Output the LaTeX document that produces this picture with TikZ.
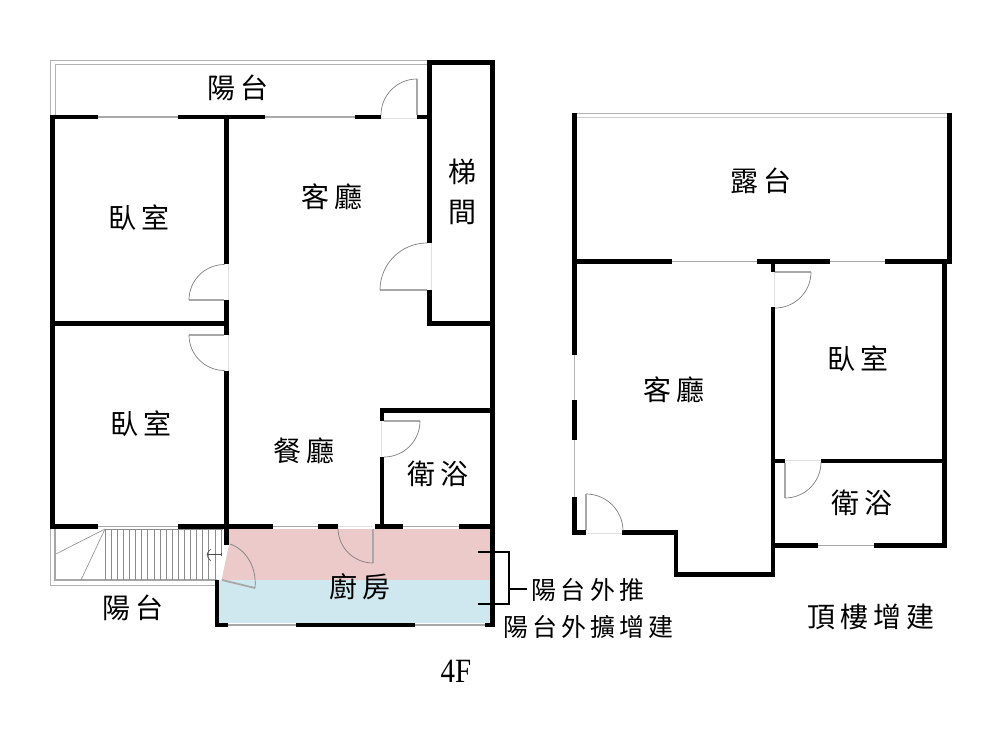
\documentclass[tikz,border=0pt]{standalone}
\usepackage{fontspec}
\setmainfont{Liberation Serif}
\newfontfamily\cjk{Noto Sans CJK TC}
\definecolor{pinkroom}{HTML}{EBCAC9}
\definecolor{blueroom}{HTML}{CFE7EE}
\definecolor{wingray}{HTML}{A8A8A8}
\tikzset{
  wall/.style={line width=4.8pt,line cap=butt,line join=miter,black},
  winline/.style={line width=1.3pt,wingray},
  leaf/.style={line width=1.3pt,draw=wingray},
  swing/.style={line width=.7pt,draw=gray},
  gapline/.style={line width=.6pt,draw=black!12},
  rail/.style={line width=1pt,draw=black!30},
  tread/.style={line width=.6pt,draw=black!45},
  room/.style={font=\cjk\fontsize{28}{28}\selectfont,inner sep=0pt,black},
  note/.style={font=\cjk\fontsize{25}{25}\selectfont,inner sep=0pt,black},
}
\newcommand{\gp}{\hspace{5pt}}
\begin{document}
\begin{tikzpicture}[x=1pt,y=-1pt]
\useasboundingbox (0,0) rectangle (1000,733);
\fill[white] (0,0) rectangle (1000,733);

% coloured rooms
\fill[pinkroom] (229,529) -- (491,529) -- (491,580) -- (221,580) -- (229,545) -- cycle;
\fill[blueroom] (219,580) rectangle (491,623);

% balconies
\draw[rail] (427,60.5) -- (50.5,60.5) -- (50.5,115);
\draw[rail] (427,65) -- (55,65) -- (55,115);
\draw[rail] (50.5,529) -- (50.5,585) -- (216,585);
\draw[line width=1.4pt,draw=black!35] (55,529) -- (55,580) -- (218,580);

% stairs
\foreach \i in {0,...,19} {
  \draw[tread] ({105+\i*6.1},529) -- ({105+\i*6.1},580);
}
\draw[tread] (105,529.5) -- (223,529.5);
\draw[tread] (105,529) -- (56,554);
\draw[tread] (105,529) -- (81,580);
\draw[line width=5pt,white] (226,545) -- (219,580);
\draw[line width=.6pt,draw=black!70] (207,554.5) -- (221,554.5);
\draw[line width=.6pt,draw=black!70] (211,549) .. controls (208,552) and (207,553) .. (207,554.5) .. controls (207,556) and (208,558) .. (211,561);
\draw[line width=.6pt,draw=black!70] (221,552.5) -- (221,556);

% windows
\foreach \a/\b in {98/178,265/355}{\draw[winline] (\a,117) -- (\b,117);}
\foreach \a/\b in {98/178,273/318,403/459}{\draw[winline] (\a,526.5) -- (\b,526.5);}
\foreach \a/\b in {228/296,415/485}{\draw[winline] (\a,625) -- (\b,625);}
\foreach \a/\b in {672/714,714/757,830/885}{\draw[winline] (\a,261.5) -- (\b,261.5);}
\draw[winline] (818,545.5) -- (874,545.5);
\draw[winline,black!30] (574.5,355) -- (574.5,400);
\draw[winline,black!30] (574.5,440) -- (574.5,497);
\draw[line width=1.5pt,black!30] (574,113.5) -- (950,113.5);
\draw[line width=.8pt,black!20] (577,117) -- (947,117);

% door openings
\draw[gapline] (381,118) -- (417,118);
\draw[gapline] (431,243) -- (431,290);
\draw[gapline] (228,264) -- (228,300);
\draw[gapline] (228,335) -- (228,371);
\draw[gapline] (381,421) -- (381,457);
\draw[gapline] (338,526) -- (373,526);
\draw[gapline] (774,272) -- (774,307);
\draw[gapline] (785,460) -- (821,460);
\draw[gapline] (586,533) -- (622,533);

% walls, lower floor
\draw[wall] (50,117) -- (98,117);
\draw[wall] (178,117) -- (265,117);
\draw[wall] (355,117) -- (381,117);
\draw[wall] (417,117) -- (430,117);
\draw[wall] (52.5,115) -- (52.5,529);
\draw[wall] (50,323.5) -- (226,323.5);
\draw[wall] (226.5,117) -- (226.5,264);
\draw[wall] (226.5,300) -- (226.5,335);
\draw[wall] (226.5,371) -- (226.5,545);
\draw[wall] (429.5,60) -- (429.5,243);
\draw[wall] (429.5,290) -- (429.5,326);
\draw[wall] (427,62.5) -- (493,62.5);
\draw[wall] (429.5,323.5) -- (493,323.5);
\draw[wall] (492.8,60) -- (492.8,627);
\draw[wall] (380,410.5) -- (493,410.5);
\draw[wall] (382,408) -- (382,421);
\draw[wall] (382,457) -- (382,529);
\draw[wall] (50,526.5) -- (98,526.5);
\draw[wall] (178,526.5) -- (273,526.5);
\draw[wall] (318,526.5) -- (338,526.5);
\draw[wall] (375,526.5) -- (403,526.5);
\draw[wall] (459,526.5) -- (495,526.5);
\draw[wall] (217,580) -- (217,627);
\draw[wall] (215,625) -- (228,625);
\draw[wall] (296,625) -- (415,625);
\draw[wall] (485,625) -- (495,625);

% walls, upper floor
\draw[wall] (574.5,113) -- (574.5,355);
\draw[wall] (949.5,113) -- (949.5,264);
\draw[wall] (572,261.5) -- (672,261.5);
\draw[wall] (757,261.5) -- (830,261.5);
\draw[wall] (885,261.5) -- (952,261.5);
\draw[wall] (574.5,400) -- (574.5,440);
\draw[wall] (574.5,497) -- (574.5,535);
\draw[wall] (572,532.5) -- (586,532.5);
\draw[wall] (622,532.5) -- (678,532.5);
\draw[wall] (676,530) -- (676,577);
\draw[wall] (674,574.5) -- (775,574.5);
\draw[wall] (773,261) -- (773,272);
\draw[wall] (773,307) -- (773,577);
\draw[wall] (944.5,261) -- (944.5,548);
\draw[wall] (773,461) -- (785,461);
\draw[wall] (821,461) -- (947,461);
\draw[wall] (773,545.5) -- (818,545.5);
\draw[wall] (874,545.5) -- (947,545.5);

% doors (y points down, so angles run clockwise on the page)
\draw[leaf] (417,115) -- (417,79);
\draw[swing] (417,79) arc[start angle=-90,end angle=-180,radius=36];
\draw[leaf] (427,290) -- (380,290);
\draw[swing] (380,290) arc[start angle=180,end angle=270,radius=47];
\draw[leaf] (224,300) -- (189,300);
\draw[swing] (189,300) arc[start angle=180,end angle=270,radius=35.5];
\draw[leaf] (224,335) -- (189,335);
\draw[swing] (189,335) arc[start angle=180,end angle=90,radius=35.5];
\draw[leaf] (384,421) -- (420,421);
\draw[swing] (420,421) arc[start angle=0,end angle=90,radius=36];
\draw[leaf] (373,529) -- (373,563);
\draw[swing] (373,563) arc[start angle=90,end angle=180,radius=35];
\draw[leaf,line width=1.8pt] (222,580) -- (255,588);
\draw[swing] (230,544) .. controls (245,549) and (257,566) .. (255,588);
\draw[leaf] (775,272) -- (811,272);
\draw[swing] (811,272) arc[start angle=0,end angle=90,radius=36];
\draw[leaf] (785,463) -- (785,498);
\draw[swing] (785,498) arc[start angle=90,end angle=0,radius=36];
\draw[leaf] (586,530) -- (586,494);
\draw[swing] (586,494) arc[start angle=-90,end angle=0,radius=37];

% callout bracket
\draw[line width=1.2pt,black] (478,552) -- (509,552) -- (509,604) -- (478,604);
\draw[line width=1.2pt,black] (509,589) -- (527,589);

% labels
\node[room] (balconyA) at (238,88) {陽\gp 台};
\node[room] (bedA) at (139,218) {臥\gp 室};
\node[room] (livingA) at (332,197) {客\gp 廳};
\node[room] (stairA) at (462,172) {梯};
\node[room] (stairB) at (462,212) {間};
\node[room] (bedB) at (141,424) {臥\gp 室};
\node[room] (dining) at (304,451) {餐\gp 廳};
\node[room] (bathA) at (438,474) {衛\gp 浴};
\node[room] (kitchen) at (360,587) {廚\gp 房};
\node[room] (balconyB) at (133,608) {陽\gp 台};
\node[note] (pushed) at (588,590) {陽\hspace{4.5pt}台\hspace{4.5pt}外\hspace{4.5pt}推};
\node[note] (extended) at (588.5,627) {陽\hspace{4pt}台\hspace{4pt}外\hspace{4pt}擴\hspace{4pt}增\hspace{4pt}建};
\node[inner sep=0pt,font=\fontsize{34}{34}\selectfont,xscale=.85,transform shape] (floorA) at (456,671) {4F};
\node[room] (terrace) at (761,181) {露\gp 台};
\node[room] (livingB) at (674,390) {客\gp 廳};
\node[room] (bedC) at (858,359) {臥\gp 室};
\node[room] (bathB) at (862,503) {衛\gp 浴};
\node[room] (rooftop) at (871,617) {頂\gp 樓\gp 增\gp 建};
\end{tikzpicture}
\end{document}
